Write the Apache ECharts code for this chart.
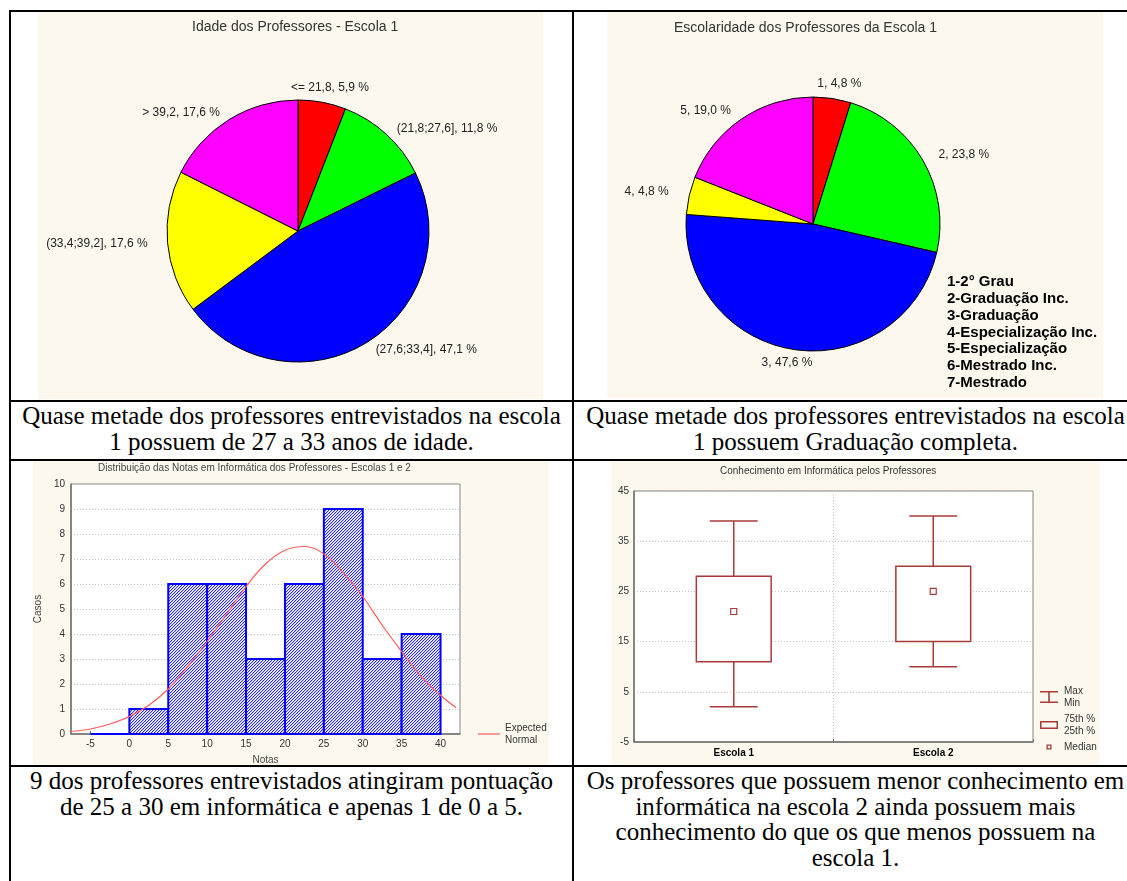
<!DOCTYPE html>
<html>
<head>
<meta charset="utf-8">
<script src="https://cdn.jsdelivr.net/npm/echarts@6/dist/echarts.min.js"></script>
<style>
  html, body { margin: 0; padding: 0; background: #fff; }
  body { width: 1127px; height: 881px; position: relative; overflow: hidden; }
  .rule { position: absolute; background: #000; }
  .chart { position: absolute; }
  .cap {
    position: absolute;
    font-family: "Liberation Serif", "Times New Roman", serif;
    font-size: 25px;
    line-height: 25.6px;
    text-align: center;
    color: #000;
    white-space: nowrap;
  }
</style>
</head>
<body>
  <!-- table frame -->
  <div class="rule" style="left:9px;top:10px;width:1118px;height:2px"></div>
  <div class="rule" style="left:9px;top:10px;width:2px;height:871px"></div>
  <div class="rule" style="left:572px;top:10px;width:2px;height:871px"></div>
  <div class="rule" style="left:9px;top:400px;width:1118px;height:2px"></div>
  <div class="rule" style="left:9px;top:459px;width:1118px;height:2px"></div>
  <div class="rule" style="left:9px;top:765px;width:1118px;height:2px"></div>

  <div id="idade" class="chart" style="left:38px;top:12px;width:505px;height:387px"></div>
  <div id="escolaridade" class="chart" style="left:607px;top:12px;width:496px;height:386px"></div>
  <div id="notas" class="chart" style="left:33px;top:461px;width:516px;height:304px"></div>
  <div id="conhecimento" class="chart" style="left:611px;top:461px;width:488px;height:304px"></div>

  <div class="cap" id="cap1" style="left:11px;top:403px;width:561px"></div>
  <div class="cap" id="cap2" style="left:574px;top:403px;width:563px"></div>
  <div class="cap" id="cap3" style="left:11px;top:768px;width:561px"></div>
  <div class="cap" id="cap4" style="left:574px;top:768px;width:563px"></div>

<script>
// ---- Idade dos Professores - Escola 1 ----
const ageClasses = ['<= 21,8', '(21,8;27,6]', '(27,6;33,4]', '(33,4;39,2]', '> 39,2'];
const agePercent = [5.9, 11.8, 47.1, 17.6, 17.6];

// ---- Escolaridade dos Professores da Escola 1 ----
const schoolingCodes = ['1', '2', '3', '4', '5'];
const schoolingPercent = [4.8, 23.8, 47.6, 4.8, 19.0];
const schoolingKey = ['1-2° Grau', '2-Graduação Inc.', '3-Graduação', '4-Especialização Inc.',
                      '5-Especialização', '6-Mestrado Inc.', '7-Mestrado'];

// ---- Distribuição das Notas (histogram + expected normal) ----
const binStart = [-5, 0, 5, 10, 15, 20, 25, 30, 35];
const binEnd   = [0, 5, 10, 15, 20, 25, 30, 35, 40];
const binCount = [0, 1, 6, 6, 3, 6, 9, 3, 4];
const normalX = [-7.5, -5, -2.5, 0, 2.5, 5, 7.5, 10, 12.5, 15, 17.5, 20, 22.5, 25, 27.5, 30, 32.5, 35, 37.5, 40, 42];
const normalY = [0.1, 0.2, 0.4, 0.7, 1.15, 1.8, 2.7, 3.7, 4.8, 5.9, 6.8, 7.35, 7.5, 7.2, 6.45, 5.5, 4.35, 3.3, 2.3, 1.55, 1.05];
const notasTicks = [-5, 0, 5, 10, 15, 20, 25, 30, 35, 40];

// ---- Conhecimento em Informática (box plot) ----
const schools = ['Escola 1', 'Escola 2'];
const scoreMin = [2, 10];
const scoreQ1 = [11, 15];
const scoreMedian = [21, 25];
const scoreQ3 = [28, 30];
const scoreMax = [39, 40];
const scoreTicks = [-5, 5, 15, 25, 35, 45];
const boxLegendNames = ['Max\nMin', '75th %\n25th %', 'Median'];

// ---- captions ----
const captions = [
  ['Quase metade dos professores entrevistados na escola', '1 possuem de 27 a 33 anos de idade.'],
  ['Quase metade dos professores entrevistados na escola', '1 possuem Graduação completa.'],
  ['9 dos professores entrevistados atingiram pontuação', 'de 25 a 30 em informática e apenas 1 de 0 a 5.'],
  ['Os professores que possuem menor conhecimento em', 'informática na escola 2 ainda possuem mais',
   'conhecimento do que os que menos possuem na', 'escola 1.']
];
captions.forEach(function (lines, i) {
  const el = document.getElementById('cap' + (i + 1));
  lines.forEach(function (t, k) {
    if (k) el.appendChild(document.createElement('br'));
    el.appendChild(document.createTextNode(t));
  });
});

const FONT = '"Liberation Sans", Arial, sans-serif';
const CREAM = '#fdf8ee';
const sliceColors = ['#ff0000', '#00ff00', '#0000ff', '#ffff00', '#ff00ff'];
const pct = function (v) { return v.toFixed(1).replace('.', ','); };

function pieOption(title, titleLeft, titleTop, names, values, center, radius, gaps, centered) {
  return {
    backgroundColor: CREAM,
    animation: false,
    title: {
      text: title, left: titleLeft, top: titleTop, padding: 0,
      textStyle: { fontFamily: FONT, fontSize: 14, fontWeight: 'normal', color: '#333' }
    },
    series: [{
      type: 'pie',
      center: center,
      radius: radius,
      startAngle: 90,
      clockwise: true,
      avoidLabelOverlap: false,
      color: sliceColors,
      itemStyle: { borderColor: '#000', borderWidth: 1 },
      label: {
        show: true, position: 'outside', distanceToLabelLine: 5,
        fontFamily: FONT, fontSize: 12, color: '#222',
        formatter: function (p) { return p.name + ', ' + pct(p.value) + ' %'; }
      },
      labelLine: { show: false, length: 8, length2: 0 },
      labelLayout: function (p) {
        return centered.indexOf(p.dataIndex) >= 0 ? { align: 'center' } : {};
      },
      emphasis: { disabled: true },
      data: names.map(function (n, i) {
        return { name: n, value: values[i], labelLine: { length: gaps[i] } };
      })
    }]
  };
}

const c1 = echarts.init(document.getElementById('idade'), null, { renderer: 'canvas' });
c1.setOption(pieOption('Idade dos Professores - Escola 1', 154, 8,
  ageClasses, agePercent, [260, 219], 131, [15, 8, 8, 15, 8], [0]));

const c2 = echarts.init(document.getElementById('escolaridade'), null, { renderer: 'canvas' });
const opt2 = pieOption('Escolaridade dos Professores da Escola 1', 67, 9,
  schoolingCodes, schoolingPercent, [206, 212], 127, [15, 12, 13, 16, 10], [0, 2]);
opt2.graphic = [{
  type: 'text', left: 340, top: 262,
  style: {
    text: schoolingKey.join('\n'),
    font: 'bold 15px ' + FONT, lineHeight: 16.7, fill: '#000'
  }
}];
c2.setOption(opt2);

// fine diagonal hatch used for the histogram bars
function hatchPattern() {
  const c = document.createElement('canvas');
  c.width = 3; c.height = 3;
  const g = c.getContext('2d');
  g.fillStyle = '#ffffff'; g.fillRect(0, 0, 3, 3);
  for (let i = 0; i < 3; i++) {
    g.fillStyle = '#2a2aff';
    g.fillRect(i, 2 - i, 1, 1);
    g.fillStyle = '#c4c4ff';
    g.fillRect((i + 1) % 3, 2 - i, 1, 1);
  }
  return { image: c, repeat: 'repeat' };
}
const hatch = hatchPattern();

const c3 = echarts.init(document.getElementById('notas'), null, { renderer: 'canvas' });
c3.setOption({
  backgroundColor: CREAM,
  animation: false,
  title: {
    text: 'Distribuição das Notas em Informática dos Professores - Escolas 1 e 2',
    left: 65, top: 2, padding: 0,
    textStyle: { fontFamily: FONT, fontSize: 10, fontWeight: 'normal', color: '#444' }
  },
  legend: {
    orient: 'vertical', left: 445, top: 261, padding: 0,
    itemWidth: 22, itemHeight: 12,
    data: [{ name: 'Expected Normal', icon: 'path://M0,0M22,12M0,5.4H22V6.6H0Z' }],
    formatter: function () { return 'Expected\nNormal'; },
    textStyle: { fontFamily: FONT, fontSize: 10, lineHeight: 12, color: '#333' }
  },
  grid: {
    left: 38, right: 89, top: 23, bottom: 31, outerBoundsMode: 'none',
    show: true, backgroundColor: '#fff', borderColor: '#888', borderWidth: 1
  },
  xAxis: {
    type: 'value', min: -7.5, max: 42.5,
    name: 'Notas', nameLocation: 'middle', nameGap: 21,
    nameTextStyle: { fontFamily: FONT, fontSize: 10, color: '#444' },
    axisLine: { onZero: false, lineStyle: { color: '#707070', width: 1.5 } },
    axisTick: { customValues: notasTicks, inside: true, length: 3, lineStyle: { color: '#707070' } },
    axisLabel: { customValues: notasTicks, fontFamily: FONT, fontSize: 10, color: '#333', margin: 5 },
    splitLine: { show: false }
  },
  yAxis: {
    type: 'value', min: 0, max: 10, interval: 1,
    name: 'Casos', nameLocation: 'middle', nameGap: 25,
    nameTextStyle: { fontFamily: FONT, fontSize: 10, color: '#444' },
    axisLine: { show: true, onZero: false, lineStyle: { color: '#707070', width: 1.5 } },
    axisTick: { show: false },
    axisLabel: { fontFamily: FONT, fontSize: 10, color: '#333', margin: 6 },
    splitLine: { show: true, lineStyle: { color: '#c4c4c4', type: [1, 2], width: 1 } }
  },
  series: [{
    type: 'custom',
    name: 'Casos',
    encode: { x: [0, 1], y: 2 },
    data: binStart.map(function (s, i) { return [s, binEnd[i], binCount[i]]; }),
    renderItem: function (params, api) {
      const top = api.coord([api.value(0), api.value(2)]);
      const base = api.coord([api.value(1), 0]);
      return {
        type: 'rect',
        shape: { x: top[0], y: top[1], width: base[0] - top[0], height: base[1] - top[1] },
        style: { fill: hatch, stroke: '#0000ff', lineWidth: 2 }
      };
    },
    z: 2
  }, {
    type: 'line',
    name: 'Expected Normal',
    data: normalX.map(function (x, i) { return [x, normalY[i]]; }),
    smooth: 0.4,
    symbol: 'none',
    color: '#ff5c5c',
    lineStyle: { color: '#ff5c5c', width: 1.2 },
    z: 3
  }]
});

const BOX = '#a83a3a';
const c4 = echarts.init(document.getElementById('conhecimento'), null, { renderer: 'canvas' });
c4.setOption({
  backgroundColor: CREAM,
  animation: false,
  title: {
    text: 'Conhecimento em Informática pelos Professores',
    left: 109, top: 5, padding: 0,
    textStyle: { fontFamily: FONT, fontSize: 10, fontWeight: 'normal', color: '#333' }
  },
  legend: {
    orient: 'vertical', left: 428, top: 224, padding: 0, itemGap: 4,
    itemWidth: 20, itemHeight: 12,
    itemStyle: { borderWidth: 0 },
    textStyle: { fontFamily: FONT, fontSize: 10, lineHeight: 12, color: '#333' },
    data: [
      { name: boxLegendNames[0], icon: 'path://M0,0M20,12M1,0H19V1.6H1Z M9.2,1.6H10.8V10.4H9.2Z M1,10.4H19V12H1Z' },
      { name: boxLegendNames[1], icon: 'path://M0,0M20,12M1,2H19V10H1Z M2.5,3.5V8.5H17.5V3.5Z' },
      { name: boxLegendNames[2], icon: 'path://M0,0M20,12M7.5,3.5H12.5V8.5H7.5Z M8.8,4.8V7.2H11.2V4.8Z' }
    ]
  },
  grid: {
    left: 23, right: 66, top: 30, bottom: 23, outerBoundsMode: 'none',
    show: true, backgroundColor: '#fff', borderColor: '#808080', borderWidth: 1
  },
  xAxis: {
    type: 'category', data: schools, boundaryGap: true,
    axisLine: { onZero: false, lineStyle: { color: '#707070', width: 1.5 } },
    axisTick: { show: true, inside: true, length: 3, lineStyle: { color: '#707070' } },
    axisLabel: { fontFamily: FONT, fontSize: 10, fontWeight: 'bold', color: '#000', margin: 6 },
    splitLine: { show: true, lineStyle: { color: '#c4c4c4', type: [1, 2], width: 1 } }
  },
  yAxis: {
    type: 'value', min: -5, max: 45,
    axisLine: { show: true, onZero: false, lineStyle: { color: '#707070', width: 1.5 } },
    axisTick: { show: false, customValues: scoreTicks },
    axisLabel: { customValues: scoreTicks, fontFamily: FONT, fontSize: 10, color: '#333', margin: 5 },
    splitLine: { show: true, lineStyle: { color: '#c4c4c4', type: [1, 2], width: 1 } }
  },
  series: [{
    type: 'custom', name: boxLegendNames[0], color: BOX,
    encode: { x: 0, y: [1, 2, 3, 4] },
    data: schools.map(function (s, i) { return [i, scoreMin[i], scoreMax[i], scoreQ1[i], scoreQ3[i]]; }),
    renderItem: function (params, api) {
      const i = api.value(0);
      const pMin = api.coord([i, api.value(1)]);
      const pMax = api.coord([i, api.value(2)]);
      const pQ1 = api.coord([i, api.value(3)]);
      const pQ3 = api.coord([i, api.value(4)]);
      const half = api.size([1, 0])[0] * 0.12;
      const st = { stroke: BOX, lineWidth: 1.5 };
      return {
        type: 'group', children: [
          { type: 'line', shape: { x1: pMax[0], y1: pMax[1], x2: pQ3[0], y2: pQ3[1] }, style: st },
          { type: 'line', shape: { x1: pQ1[0], y1: pQ1[1], x2: pMin[0], y2: pMin[1] }, style: st },
          { type: 'line', shape: { x1: pMax[0] - half, y1: pMax[1], x2: pMax[0] + half, y2: pMax[1] }, style: st },
          { type: 'line', shape: { x1: pMin[0] - half, y1: pMin[1], x2: pMin[0] + half, y2: pMin[1] }, style: st }
        ]
      };
    },
    z: 2
  }, {
    type: 'custom', name: boxLegendNames[1], color: BOX,
    encode: { x: 0, y: [1, 2] },
    data: schools.map(function (s, i) { return [i, scoreQ1[i], scoreQ3[i]]; }),
    renderItem: function (params, api) {
      const i = api.value(0);
      const lo = api.coord([i, api.value(1)]);
      const hi = api.coord([i, api.value(2)]);
      const w = api.size([1, 0])[0] * 0.375;
      return {
        type: 'rect',
        shape: { x: hi[0] - w / 2, y: hi[1], width: w, height: lo[1] - hi[1] },
        style: { fill: '#fff', stroke: BOX, lineWidth: 1.5 }
      };
    },
    z: 3
  }, {
    type: 'custom', name: boxLegendNames[2], color: BOX,
    encode: { x: 0, y: 1 },
    data: schools.map(function (s, i) { return [i, scoreMedian[i]]; }),
    renderItem: function (params, api) {
      const p = api.coord([api.value(0), api.value(1)]);
      return {
        type: 'rect',
        shape: { x: p[0] - 3, y: p[1] - 3, width: 6, height: 6 },
        style: { fill: '#fff', stroke: BOX, lineWidth: 1.2 }
      };
    },
    z: 4
  }]
});
</script>
</body>
</html>
